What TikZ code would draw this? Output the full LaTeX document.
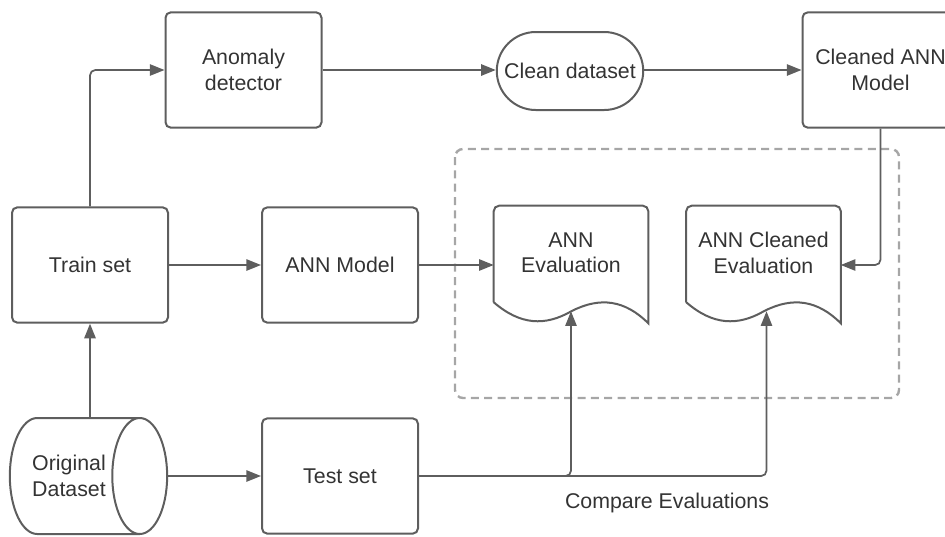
\documentclass[tikz,border=0pt]{standalone}
\usepackage{fontspec}
\setmainfont{Liberation Sans}
\usetikzlibrary{arrows.meta,shapes.geometric,shapes.misc}

\definecolor{linegray}{HTML}{5E5E5E}
\definecolor{textgray}{HTML}{333333}
\definecolor{dashgray}{HTML}{A6A6A6}

\tikzset{
  lbl/.style={text=textgray, align=center, font=\fontsize{16}{19}\selectfont},
  box/.style={lbl, draw=linegray, line width=1.5pt, rounded corners=4pt,
    minimum width=117pt, minimum height=86.5pt},
  pill/.style={lbl, rounded rectangle, draw=linegray, line width=1.5pt,
    minimum width=116.5pt, minimum height=58.5pt},
  cyl/.style={lbl, cylinder, draw=linegray, line width=1.5pt, shape aspect=1.1,
    minimum width=87pt, minimum height=118pt},
  doc/.style={lbl, minimum width=115.5pt, minimum height=70.5pt},
  docedge/.style={draw=linegray, line width=1.5pt},
  arr/.style={draw=linegray, line width=1.3pt, rounded corners=4pt,
    -{Triangle[length=11pt,width=8.5pt]}},
}

% document outline round a doc node
\newcommand{\docoutline}[1]{%
  \draw[docedge] ([shift={(0,2)}]#1.south west)
    [rounded corners=4pt] -- (#1.north west) -- (#1.north east) [sharp corners]
    -- ([shift={(0,23)}]#1.south east)
    .. controls ([shift={(-23,0)}]#1.south east) and ([shift={(-48,-4)}]#1.south east) .. ([shift={(-77,11)}]#1.south east)
    .. controls ([shift={(-103,26)}]#1.south east) and ([shift={(-128,25)}]#1.south east) .. ([shift={(0,2)}]#1.south west);}

\begin{document}
\begin{tikzpicture}[x=0.75pt,y=-0.75pt]
\useasboundingbox (0,0) rectangle (945,536);

% dashed frame
\draw[dashgray, line width=1.8pt, dash pattern=on 6pt off 4pt, rounded corners=6pt]
  (455,149) rectangle (899,398);

\node[box] (anomaly) at (243.5,70) {Anomaly\\detector};
\node[pill] (clean) at (570,71) {Clean dataset};
\node[box] (cleaned) at (880.5,70) {Cleaned ANN\\Model};

\node[box] (train) at (90,265) {Train set};
\node[box] (ann) at (340,265) {ANN Model};
\node[doc] (eval) at (571,253) {ANN\\Evaluation};
\node[doc] (evalc) at (763.5,253) {ANN Cleaned\\Evaluation};
\docoutline{eval}
\docoutline{evalc}

\node[cyl] (orig) at (69,476) {Original\\Dataset};
\node[box] (test) at (340,476) {Test set};
\node[lbl] (cmp) at (667,503) {Compare Evaluations};

\draw[arr] (train.north) |- (anomaly.west);
\draw[arr] (anomaly.east) -- (anomaly.east -| clean.west);
\draw[arr] (clean.east |- cleaned.west) -- (cleaned.west);
\draw[arr] (cleaned.south) |- ([shift={(0,12)}]evalc.east);
\draw[arr] (train.east) -- (ann.west);
\draw[arr] (ann.east) -- (ann.east -| eval.west);
\draw[arr] (train.south |- orig.north) -- (train.south);
\draw[arr] (orig.east) -- (test.west);
\draw[arr] (test.east) -| ([shift={(0,11)}]eval.south);
\draw[arr] (test.east) -| ([shift={(3,11)}]evalc.south);
\end{tikzpicture}
\end{document}
